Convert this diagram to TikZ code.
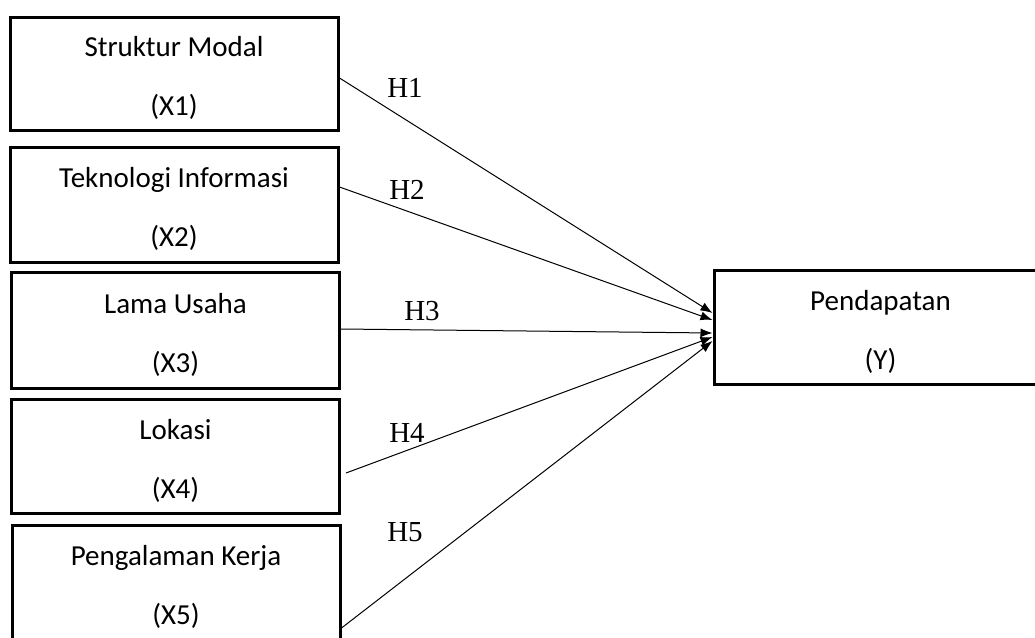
\documentclass[tikz,border=0pt]{standalone}
\usepackage{fontspec}
\setmainfont{Carlito}
\newfontfamily\hfont{Liberation Serif}
\usetikzlibrary{arrows.meta,positioning}
\newcommand{\topgap}{\rule{0pt}{30pt}}

\begin{document}
\begin{tikzpicture}[x=1pt,y=-1pt,node distance=10pt,>={Latex[length=12pt,width=9pt]}]
\tikzset{varbox/.style={draw,line width=3pt,minimum width=328pt,minimum height=114pt,align=center,font=\fontsize{29}{59}\selectfont},
  hlabel/.style={font=\hfont\fontsize{29}{35}\selectfont,inner sep=0pt},
  link/.style={->,line width=1pt}}
\useasboundingbox (0,0) rectangle (1035,637);
\clip (0,0) rectangle (1035,637);
% independent variables
\node[varbox,minimum height=113pt] (x1) at (174,73.5) {\topgap Struktur Modal\\(X1)};
\node[varbox,minimum height=115pt,below=14pt of x1] (x2) {\topgap Teknologi Informasi\\(X2)};
\node[varbox,minimum height=116pt,below=7pt of x2,xshift=1.5pt] (x3) {\topgap Lama Usaha\\(X3)};
\node[varbox,below=8pt of x3] (x4) {\topgap Lokasi\\(X4)};
\node[varbox,minimum height=115pt,below=9pt of x4,xshift=0.5pt] (x5) {\topgap Pengalaman Kerja\\(X5)};
% dependent variable
\node[varbox,minimum width=333pt] (y) at (880.5,327) {\topgap Pendapatan\\(Y)};
% hypotheses
\node[hlabel] (h1) at (405,88) {H1};
\node[hlabel] (h2) at (407,190) {H2};
\node[hlabel] (h3) at (422,311) {H3};
\node[hlabel] (h4) at (407,433) {H4};
\node[hlabel] (h5) at (405,532) {H5};
\draw[link] ([yshift=-4.5pt]x1.east) -- ([yshift=14pt]y.west);
\draw[link] ([yshift=17.5pt]x2.east) -- ([yshift=7pt]y.west);
\draw[link] ([yshift=1pt]x3.east) -- ([yshift=-6pt]y.west);
\draw[link] ([xshift=5pt,yshift=-17pt]x4.east) -- ([yshift=-10pt]y.west);
\draw[link] ([yshift=-45.5pt]x5.east) -- ([yshift=-14pt]y.west);
\end{tikzpicture}
\end{document}
